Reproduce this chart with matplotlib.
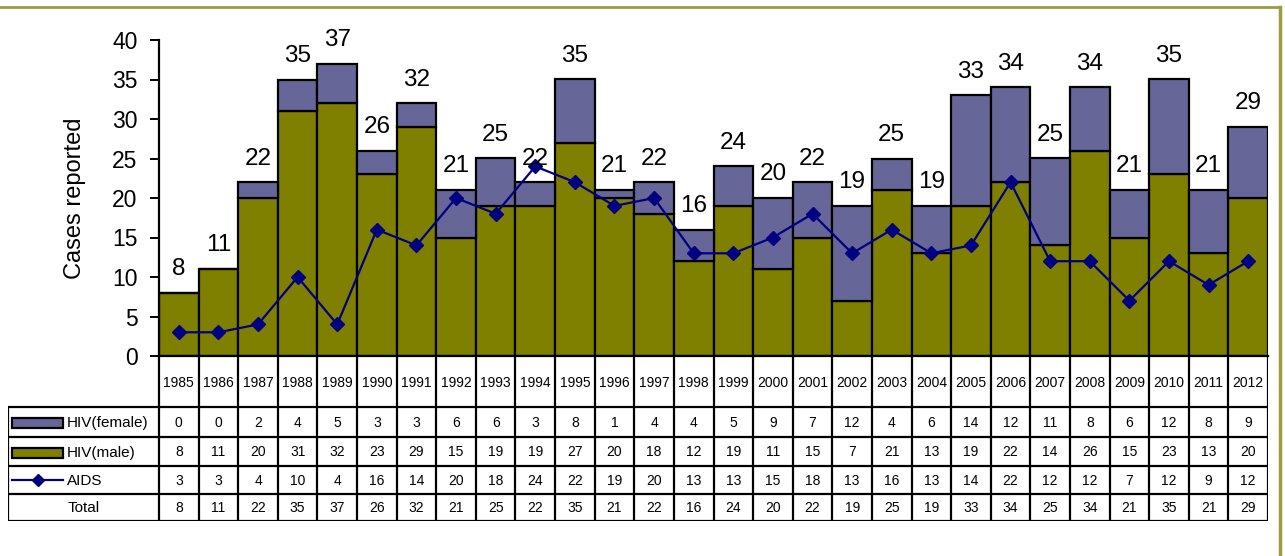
import matplotlib
matplotlib.use("Agg")
import matplotlib.pyplot as plt
from matplotlib.patches import Rectangle
from matplotlib.lines import Line2D
import numpy as np

plt.rcParams['font.family'] = ['Liberation Sans', 'DejaVu Sans']

years = list(range(1985, 2013))
hiv_female = [0, 0, 2, 4, 5, 3, 3, 6, 6, 3, 8, 1, 4, 4, 5, 9, 7, 12, 4, 6, 14, 12, 11, 8, 6, 12, 8, 9]
hiv_male = [8, 11, 20, 31, 32, 23, 29, 15, 19, 19, 27, 20, 18, 12, 19, 11, 15, 7, 21, 13, 19, 22, 14, 26, 15, 23, 13, 20]
aids = [3, 3, 4, 10, 4, 16, 14, 20, 18, 24, 22, 19, 20, 13, 13, 15, 18, 13, 16, 13, 14, 22, 12, 12, 7, 12, 9, 12]
total = [m + f for m, f in zip(hiv_male, hiv_female)]

C_FEMALE = '#666699'
C_MALE = '#808000'
C_AIDS = '#000080'

W, H = 1285, 556
fig = plt.figure(figsize=(W / 100, H / 100), dpi=100)

def fx(px):
    return px / W

def fy(py):
    return 1 - py / H

# main axes
x0, x1 = 159, 1268
ytop, ybot = 40, 356
ax = fig.add_axes([fx(x0), fy(ybot), fx(x1) - fx(x0), fy(ytop) - fy(ybot)])
n = len(years)
x = np.arange(n)
ax.bar(x, hiv_male, width=1.0, color=C_MALE, edgecolor='black', linewidth=1.6, zorder=2)
ax.bar(x, hiv_female, bottom=hiv_male, width=1.0, color=C_FEMALE, edgecolor='black', linewidth=1.6, zorder=2)
ax.plot(x, aids, color=C_AIDS, marker='D', markersize=7.5, linewidth=1.6, zorder=3)
for xi, t in zip(x, total):
    ax.text(xi, t + 1.6, str(t), ha='center', va='bottom', fontsize=17.5, zorder=4)
ax.set_xlim(-0.5, n - 0.5)
ax.set_ylim(0, 40)
ax.set_yticks(range(0, 41, 5))
ax.tick_params(axis='y', labelsize=16.5, length=6.5, width=1.4, direction='out', pad=9)
ax.set_xticks([])
for s in ['top', 'right']:
    ax.spines[s].set_visible(False)
ax.spines['left'].set_linewidth(1.6)
ax.spines['bottom'].set_linewidth(1.6)
ax.set_ylabel('Cases reported', fontsize=17, labelpad=19)
ax.patch.set_alpha(0)

# data table
tl, tt, tb = 8, 356, 521
unit = (x1 - x0) / n
xl_left = -0.5 - (x0 - tl) / unit
tax = fig.add_axes([fx(tl), fy(tb), fx(x1) - fx(tl), fy(tt) - fy(tb)])
tax.set_xlim(xl_left, n - 0.5)
tax.set_ylim(tb, tt)
tax.axis('off')

row_edges = [356, 407, 437, 466, 494, 521]
lw = 1.6
for yy in row_edges[1:]:
    tax.plot([xl_left, n - 0.5], [yy, yy], color='black', lw=lw, solid_capstyle='butt')
for k in range(n + 1):
    tax.plot([k - 0.5, k - 0.5], [356, 521], color='black', lw=lw, solid_capstyle='butt')
tax.plot([xl_left, xl_left], [407, 521], color='black', lw=lw, solid_capstyle='butt')

fs = 10
for k, yr in enumerate(years):
    tax.text(k, (356 + 407) / 2 + 1, str(yr), ha='center', va='center', fontsize=fs)
rows = [hiv_female, hiv_male, aids, total]
for r, vals in enumerate(rows):
    yc = (row_edges[r + 1] + row_edges[r + 2]) / 2
    for k, v in enumerate(vals):
        tax.text(k, yc + 1, str(v), ha='center', va='center', fontsize=fs)

def px2x(px):
    return xl_left + (px - tl) / unit

fs_leg = 11
key_l, key_r = 12, 63
for r, (lab, col) in enumerate([('HIV(female)', C_FEMALE), ('HIV(male)', C_MALE)]):
    yc = (row_edges[r + 1] + row_edges[r + 2]) / 2 + 1
    tax.add_patch(Rectangle((px2x(key_l), yc - 5), px2x(key_r) - px2x(key_l), 10,
                            facecolor=col, edgecolor='black', linewidth=1.6))
    tax.text(px2x(67), yc, lab, ha='left', va='center', fontsize=fs_leg)
yc = (row_edges[3] + row_edges[4]) / 2
tax.plot([px2x(key_l), px2x(key_r)], [yc, yc], color=C_AIDS, lw=1.6)
tax.plot([px2x((key_l + key_r) / 2)], [yc], marker='D', color=C_AIDS, markersize=6)
tax.text(px2x(67), yc + 1, 'AIDS', ha='left', va='center', fontsize=fs_leg)
yc = (row_edges[4] + row_edges[5]) / 2 + 1
tax.text(px2x(84), yc, 'Total', ha='center', va='center', fontsize=fs_leg)

frame_col = '#9c9c42'
fig.add_artist(Line2D([0, fx(1280)], [fy(7), fy(7)], color=frame_col, lw=2, transform=fig.transFigure))
fig.add_artist(Line2D([fx(1280), fx(1280)], [fy(7), 0], color=frame_col, lw=2.5, transform=fig.transFigure))

fig.savefig('out.png', dpi=100)
